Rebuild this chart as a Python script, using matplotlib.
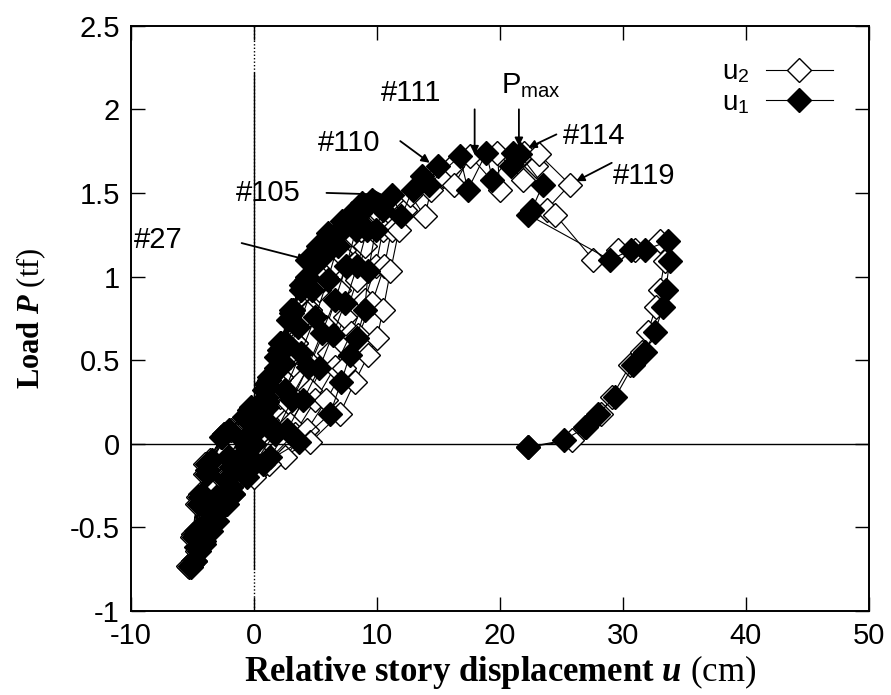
import numpy as np
import matplotlib
matplotlib.use('Agg')
import matplotlib.pyplot as plt

# load history: load P (tf) with the two displacement readings u1, u2 (cm)
load = [0.00, 0.10, 0.22, 0.14, -0.04, -0.14, 0.02, 0.25, 0.45, 0.60,
        0.45, 0.22, -0.02, -0.22, -0.08, 0.14, 0.38, 0.60, 0.80, 0.95,
        0.80, 0.55, 0.28, 0.05, 0.40, 0.78, 1.10,
        1.18, 1.26, 1.12, 0.92, 0.70, 0.48, 0.25, 0.05, -0.14, -0.32,
        -0.48, -0.62, -0.72, -0.56, -0.36, -0.16, 0.04, 0.16, 0.32, 0.52,
        0.74, 0.92, 1.08, 1.22, 1.33,
        1.18, 0.98, 0.76, 0.54, 0.32, 0.12, -0.08, -0.26, -0.42, -0.58, -0.70,
        -0.52, -0.30, -0.10, 0.08, 0.22, 0.40, 0.60, 0.80, 1.00, 1.16,
        1.28, 1.38, 1.44,
        1.28, 1.06, 0.86, 0.66, 0.46, 0.26, 0.06, -0.12, -0.30, -0.46,
        -0.60, -0.70, -0.74,
        -0.54, -0.32, -0.12, 0.06, 0.20, 0.36, 0.56, 0.78, 0.98, 1.14,
        1.28, 1.38, 1.46,
        1.28, 1.06, 0.84, 0.65, 0.45, 0.26, 0.08, -0.08, -0.20, -0.36,
        -0.52, -0.64, -0.73,
        -0.56, -0.36, -0.18, -0.12, -0.12,
        0.01, 0.18, 0.37, 0.53, 0.63, 0.80, 1.03, 1.28, 1.40, 1.49,
        1.36, 1.52, 1.60, 1.66, 1.55, 1.72, 1.52, 1.74, 1.58, 1.74,
        1.66, 1.73, 1.55, 1.40, 1.37,
        1.10, 1.16, 1.16, 1.21, 1.09, 0.92, 0.82, 0.67, 0.55, 0.47,
        0.28, 0.18, 0.10, 0.02, -0.02]

u1 = [0.0, 0.5, 1.1, 0.7, -0.5, -1.4, -0.8, 0.8, 1.8, 2.6,
      2.0, 1.0, -0.6, -2.3, -2.0, -0.4, 1.2, 2.1, 3.0, 3.8,
      3.2, 2.2, 1.0, -0.4, 1.3, 3.1, 4.3,
      5.2, 6.0, 5.6, 4.7, 3.6, 2.4, 1.1, -0.4, -1.8, -3.0,
      -3.9, -4.6, -5.0, -4.7, -4.3, -3.7, -2.6, -0.8, 0.8, 1.8,
      2.8, 3.8, 5.0, 6.2, 7.2,
      6.8, 6.0, 5.0, 3.8, 2.5, 1.2, -0.3, -1.9, -3.2, -4.1, -4.8,
      -4.6, -4.2, -3.4, -2.0, -0.2, 1.2, 2.2, 3.2, 4.3, 5.6,
      6.9, 8.0, 8.8,
      8.3, 7.5, 6.6, 5.5, 4.4, 3.1, 1.7, 0.0, -1.7, -3.0,
      -4.1, -4.8, -5.1,
      -4.8, -4.4, -3.8, -2.4, -0.4, 1.0, 2.0, 3.0, 4.2, 5.6,
      7.2, 8.6, 9.6,
      9.2, 8.4, 7.4, 6.4, 5.3, 4.0, 2.7, 1.3, -0.6, -2.2,
      -3.5, -4.5, -5.2,
      -4.9, -4.5, -3.8, -1.2, 0.75,
      3.7, 6.2, 7.1, 7.8, 8.35, 9.0, 9.3, 9.9, 10.5, 11.2,
      12.0, 12.9, 13.7, 15.0, 14.2, 16.75, 17.4, 18.9, 19.4, 21.1,
      20.9, 21.6, 23.5, 22.6, 22.3,
      28.95, 30.7, 31.8, 33.7, 33.8, 33.5, 33.3, 32.6, 31.8, 30.85,
      29.4, 28.0, 27.0, 25.2, 22.3]

u2 = [0.0, 0.7, 1.5, 1.1, -0.6, -1.5, -0.9, 1.3, 2.5, 3.4,
      2.9, 1.7, -0.6, -2.4, -2.1, 0.0, 2.0, 3.1, 4.1, 5.0,
      4.6, 3.5, 2.1, 0.4, 2.2, 4.2, 5.6,
      6.7, 7.8, 7.6, 6.9, 5.9, 4.6, 2.8, 0.4, -1.9, -3.1,
      -4.0, -4.7, -5.15, -4.85, -4.45, -3.85, -2.7, -0.4, 1.6, 2.9,
      4.1, 5.3, 6.6, 8.0, 9.2,
      9.0, 8.4, 7.4, 6.1, 4.6, 2.9, 0.6, -1.9, -3.3, -4.25, -4.95,
      -4.75, -4.35, -3.55, -1.9, 0.4, 2.2, 3.4, 4.6, 5.9, 7.3,
      8.7, 9.9, 10.8,
      10.5, 9.9, 9.0, 7.9, 6.6, 5.0, 3.3, 0.9, -1.7, -3.1,
      -4.25, -4.95, -5.25,
      -4.95, -4.55, -3.95, -2.4, 0.3, 2.0, 3.2, 4.3, 5.6, 7.0,
      8.7, 10.2, 11.4,
      11.2, 10.6, 9.6, 8.5, 7.3, 5.9, 4.3, 2.5, 0.0, -2.3,
      -3.65, -4.65, -5.35,
      -5.05, -4.65, -3.95, -1.2, 1.2,
      4.6, 7.0, 8.2, 9.3, 10.0, 10.5, 11.1, 11.8, 12.3, 12.7,
      13.9, 14.4, 15.4, 16.1, 16.3, 17.6, 20.0, 19.8, 21.9, 22.0,
      22.9, 23.2, 25.7, 23.8, 24.5,
      27.6, 29.6, 31.0, 33.0, 33.4, 33.0, 32.7, 32.05, 31.6, 30.6,
      29.1, 28.2, 26.9, 25.9, 22.3]

# step labels: text, text position, arrow tail and tip
labels = ['#27', '#105', '#110', '#111', 'P$_{\\mathregular{max}}$', '#114', '#119']
label_xy = [(-9.8, 1.22), (-1.5, 1.50), (5.2, 1.80), (10.3, 2.10), (20.1, 2.14), (25.1, 1.84), (29.2, 1.60)]
arrow_from = [(-1.0, 1.20), (5.9, 1.50), (11.9, 1.81), (17.95, 2.00), (21.55, 2.00), (24.6, 1.85), (29.1, 1.68)]
arrow_to = [(4.3, 1.10), (10.5, 1.49), (14.3, 1.68), (17.95, 1.73), (21.55, 1.78), (22.3, 1.77), (26.2, 1.57)]

plt.rcParams['font.family'] = ['Liberation Sans', 'DejaVu Sans']
plt.rcParams['mathtext.fontset'] = 'custom'
plt.rcParams['mathtext.rm'] = 'Liberation Serif'
plt.rcParams['mathtext.it'] = 'Liberation Serif:style=italic:weight=bold'
plt.rcParams['mathtext.bf'] = 'Liberation Serif:weight=bold'

fig = plt.figure(figsize=(8.91, 6.95), dpi=100)
ax = fig.add_axes([0.147, 0.121, 0.828, 0.842])

# zero axes: solid lines plus dotted tails on the vertical one
ax.axhline(0, color='k', lw=1.0, zorder=1)
ax.axvline(0, color='k', lw=1.0, ls=(0, (1, 1.5)), zorder=1)
ax.plot([0, 0], [-0.75, 2.22], color='k', lw=1.0, zorder=1)

ms = 12
ax.plot(u2, load, color='k', lw=0.8, marker='D', ms=ms, mfc='white', mec='k', mew=1.0,
        label='u$_{\\mathregular{2}}$', zorder=2)
ax.plot(u1, load, color='k', lw=0.8, marker='D', ms=ms, mfc='k', mec='k', mew=1.0,
        label='u$_{\\mathregular{1}}$', zorder=3)

for txt, pos, p0, p1 in zip(labels, label_xy, arrow_from, arrow_to):
    ax.annotate('', xy=p1, xytext=p0,
                arrowprops=dict(arrowstyle='-|>', color='k', lw=1.3, mutation_scale=12,
                                shrinkA=0, shrinkB=0), zorder=4)
    ax.text(pos[0], pos[1], txt, ha='left', va='center', fontsize=21, zorder=5)

ax.set_xlim(-10, 50)
ax.set_ylim(-1, 2.5)
ax.set_xticks(np.arange(-10, 51, 10))
ax.set_yticks(np.arange(-1, 2.51, 0.5))
ax.set_yticklabels(['-1', '-0.5', '0', '0.5', '1', '1.5', '2', '2.5'])
ax.set_xticklabels(['-10', '0', '10', '20', '30', '40', '50'])
ax.tick_params(direction='in', length=10, width=1.0, top=True, right=True,
               labelsize=21, pad=8)
for s in ax.spines.values():
    s.set_linewidth(1.4)

ax.set_xlabel('Relative story displacement $\\mathit{u}\\ \\mathrm{(cm)}$',
              family='Liberation Serif', weight='bold', fontsize=25, labelpad=2)
ax.set_ylabel('Load $\\mathit{P}\\ \\mathrm{(tf)}$',
              family='Liberation Serif', weight='bold', fontsize=22, labelpad=16)

ax.legend(loc='upper right', bbox_to_anchor=(0.985, 0.985), frameon=False,
          markerfirst=False, fontsize=20, handlelength=2.4, handletextpad=0.6,
          labelspacing=0.15)

fig.savefig('out.png', dpi=100)
